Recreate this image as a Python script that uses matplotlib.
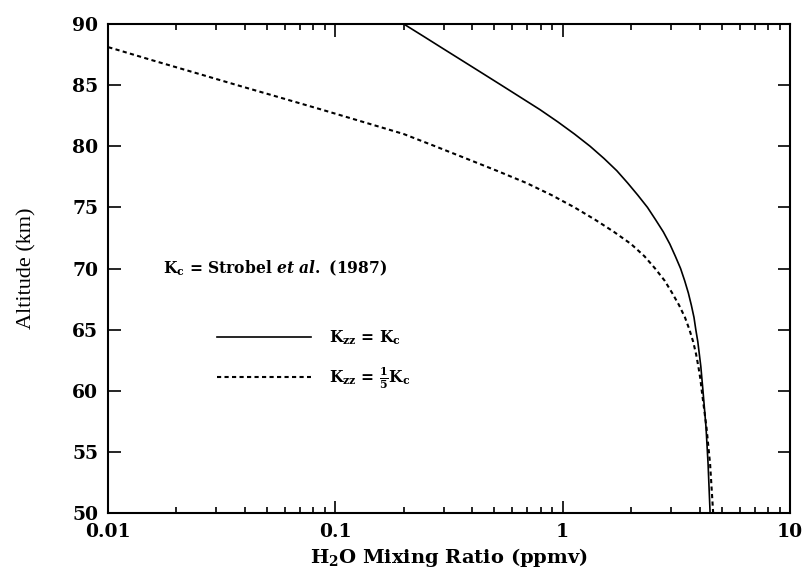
import numpy as np
import matplotlib
matplotlib.use("Agg")
import matplotlib.pyplot as plt
from matplotlib.ticker import LogLocator, FixedLocator, NullFormatter, FixedFormatter

plt.rcParams['mathtext.fontset'] = 'custom'
plt.rcParams['mathtext.rm'] = 'DejaVu Serif:bold'
plt.rcParams['mathtext.it'] = 'DejaVu Serif:bold:italic'
plt.rcParams['mathtext.bf'] = 'DejaVu Serif:bold'

# altitude (km) and H2O mixing ratio (ppmv)
alt_kc = [90, 89, 88, 87, 86, 85, 84, 83, 82, 81, 80, 79, 78, 77, 76, 75, 74, 73,
          72, 71, 70, 69, 68, 67, 66, 65, 64, 62, 60, 57, 54, 50]
h2o_kc = [0.200, 0.244, 0.297, 0.362, 0.441, 0.537, 0.653, 0.794, 0.951, 1.127,
          1.32, 1.52, 1.73, 1.93, 2.14, 2.36, 2.56, 2.77, 2.96, 3.13, 3.30, 3.44,
          3.57, 3.68, 3.78, 3.85, 3.93, 4.05, 4.14, 4.27, 4.36, 4.45]

alt_kc5 = [90, 89, 88, 87, 86, 85, 84, 83, 82, 81, 80, 79, 78, 77, 76, 75, 74, 73,
           72, 71, 70, 69, 68, 67, 66, 65, 64, 63, 62, 61, 60, 57, 54, 50]
h2o_kc5 = [0.0045, 0.0068, 0.0105, 0.0159, 0.0243, 0.037, 0.0568, 0.087, 0.132,
           0.200, 0.275, 0.376, 0.513, 0.692, 0.895, 1.127, 1.387, 1.68, 2.00, 2.29,
           2.55, 2.81, 3.03, 3.25, 3.45, 3.61, 3.75, 3.86, 3.95, 4.03, 4.09, 4.29,
           4.45, 4.59]

xticks = [0.01, 0.1, 1, 10]
xticklabels = ["0.01", "0.1", "1", "10"]
yticks = [50, 55, 60, 65, 70, 75, 80, 85, 90]

fig = plt.figure(figsize=(8.07, 5.72), dpi=100)
ax = fig.add_axes([0.1338, 0.1031, 0.8452, 0.8549])

ax.plot(h2o_kc, alt_kc, color='black', lw=1.2, label=r"K$_{\rm zz}$ = K$_{\rm c}$")
ax.plot(h2o_kc5, alt_kc5, color='black', lw=1.5, dashes=(2, 1.6),
        label=r"K$_{\rm zz}$ = $\frac{1}{5}$K$_{\rm c}$")

ax.set_xscale('log')
ax.set_xlim(0.01, 10)
ax.set_ylim(50, 90)

ax.xaxis.set_major_locator(FixedLocator(xticks))
ax.xaxis.set_major_formatter(FixedFormatter(xticklabels))
ax.xaxis.set_minor_locator(LogLocator(base=10, subs=np.arange(2, 10)))
ax.xaxis.set_minor_formatter(NullFormatter())
ax.set_yticks(yticks)

ax.tick_params(which='both', direction='in', top=True, right=True, width=1.2)
ax.tick_params(which='major', length=9, pad=7)
ax.tick_params(which='minor', length=4.5)
for lab in ax.get_xticklabels() + ax.get_yticklabels():
    lab.set_fontfamily('DejaVu Serif')
    lab.set_fontweight('bold')
    lab.set_fontsize(13.5)
for sp in ax.spines.values():
    sp.set_linewidth(1.5)

ax.set_xlabel(r"H$_{\rm 2}$O Mixing Ratio (ppmv)", family='DejaVu Serif',
              weight='bold', size=14, labelpad=4)
ax.set_ylabel("Altitude (km)", family='Liberation Serif', size=16, labelpad=26)

ax.text(0.081, 0.5, r"K$_{\rm c}$ = Strobel $\it et\ al.$ (1987)", transform=ax.transAxes,
        family='DejaVu Serif', weight='bold', size=11.2, va='center', ha='left')

leg = ax.legend(loc='center left', bbox_to_anchor=(0.14, 0.314), frameon=False,
                handlelength=6.0, handletextpad=1.2, labelspacing=1.15,
                prop=dict(family='DejaVu Serif', weight='bold', size=11.2))

fig.savefig("out.png", dpi=100)
